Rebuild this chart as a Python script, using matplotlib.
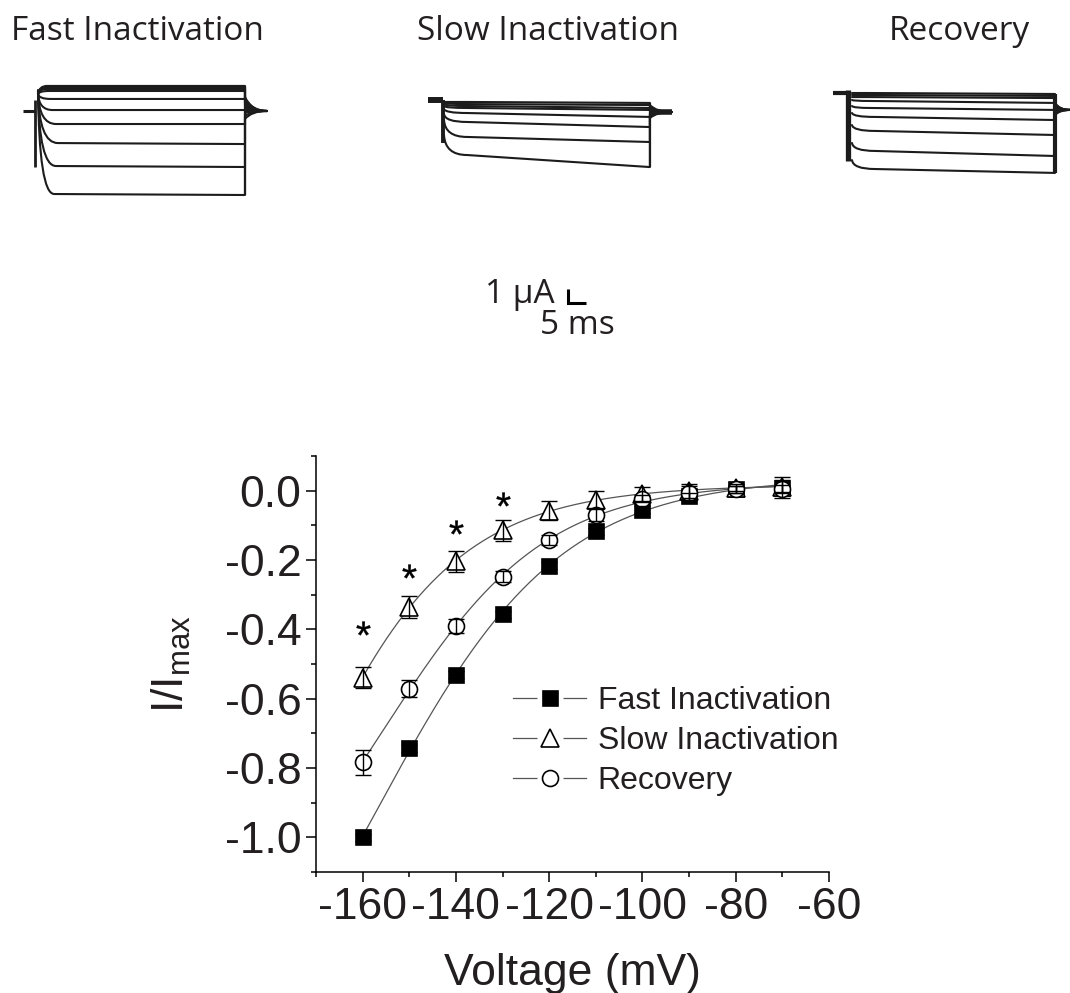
import numpy as np
import matplotlib
matplotlib.use("Agg")
import matplotlib.pyplot as plt
from matplotlib.path import Path
from matplotlib.patches import PathPatch
from matplotlib.lines import Line2D
from matplotlib.legend_handler import HandlerTuple

# ---------------- data: steady-state inactivation / recovery ----------------
voltage = [-160, -150, -140, -130, -120, -110, -100, -90, -80, -70]
fast_mean = [-1.0, -0.743, -0.531, -0.356, -0.216, -0.117, -0.055, -0.016, 0.004, 0.008]
fast_err = [0.01, 0.01, 0.01, 0.01, 0.01, 0.01, 0.01, 0.01, 0.01, 0.03]
slow_mean = [-0.539, -0.335, -0.204, -0.114, -0.058, -0.026, -0.009, -0.002, 0.009, 0.012]
slow_err = [0.03, 0.032, 0.03, 0.03, 0.027, 0.024, 0.02, 0.02, 0.01, 0.02]
rec_mean = [-0.784, -0.571, -0.391, -0.248, -0.143, -0.070, -0.023, -0.006, 0.004, 0.006]
rec_err = [0.035, 0.025, 0.02, 0.015, 0.015, 0.017, 0.01, 0.02, 0.01, 0.01]
star_voltage = [-160, -150, -140, -130]
star_level = [-0.397, -0.233, -0.105, -0.023]
series_labels = ["Fast Inactivation", "Slow Inactivation", "Recovery"]
x_ticks = [-160, -140, -120, -100, -80, -60]
y_ticks = [-1.0, -0.8, -0.6, -0.4, -0.2, 0.0]

# ---------------- data: example current traces (ms, uA rel. to holding) ----------------
fast_start = [1.2, 1.2, 1.2, 1.2, 1.2, 1.2, 1.21, 1.29, 1.36, 1.43, 1.5]
fast_steady = [1.79, 1.71, 1.64, 1.57, 1.43, 0.86, 0.07, -0.93, -2.29, -3.93, -5.93]
fast_end = [1.79, 1.71, 1.64, 1.57, 1.43, 0.86, 0.07, -0.93, -2.36, -4.0, -6.0]
fast_knee = [2.5, 2.5, 2.5, 2.5, 3.0, 3.5, 4.0, 5.0, 5.5, 5.0, 4.5]
fast_tail = [1.0, 0.86, 0.71, 0.57, 0.43, 0.29, 0.14, 0.0, -0.14, -0.36, -0.57]
fast_step_ms = 57.5

slow_start = [-0.14, -0.21, -0.29, -0.43, -0.64, -1.0, -1.43, -2.5]
slow_steady = [-0.14, -0.29, -0.43, -0.57, -0.93, -1.57, -2.64, -3.93]
slow_end = [-0.21, -0.36, -0.57, -0.71, -1.21, -1.93, -3.0, -4.79]
slow_knee = [6.4] * 8
slow_tail = [-0.36, -0.5, -0.64, -0.79, -0.93, -1.07, -1.21, -1.29]
slow_step_ms = 57.2

rec_start = [0.0, -0.14, -0.29, -0.5, -0.93, -1.43, -2.29, -3.57, -4.79]
rec_steady = [0.0, -0.14, -0.29, -0.57, -1.07, -1.71, -2.71, -4.14, -5.43]
rec_end = [-0.07, -0.21, -0.36, -0.71, -1.21, -1.93, -3.0, -4.5, -5.71]
rec_knee = [4.0, 4.0, 4.0, 5.0, 5.0, 6.4, 6.4, 6.4, 6.4]
rec_tail = [-0.71, -0.79, -0.86, -0.93, -1.07, -1.21, -1.36, -1.5, -1.57]
rec_step_ms = 56.4

# ---------------- figure ----------------
W, H = 1070, 993
plt.rcParams["axes.unicode_minus"] = False
fig = plt.figure(figsize=(W / 100, H / 100), dpi=100)


def fx(px):
    return px / W


def fy(py):
    return 1 - py / H


TXT = "#231f20"
TRACE = "#1c1c1c"

# trace axes: units ms (x) and uA (y); 5 ms = 18 px, 1 uA = 14 px
PX_MS, PX_UA = 3.6, 14.0
tax = fig.add_axes([0, 0, 1, 1])
tax.set_xlim(0, W / PX_MS)
tax.set_ylim(-H / PX_UA, 0)
tax.axis("off")


def draw_panel(org, starts, steadys, ends, knees, tails, step_ms, tail_ms, tail_level,
               hold_from, hold_lw, cap_t, cap_top, cap_bot, cap_lw, end_lw):
    ox, oy = org
    for s, ss, e, kn, tl in zip(starts, steadys, ends, knees, tails):
        verts = [(ox, oy + s), (ox + 0.3, oy + ss), (ox + kn, oy + ss),
                 (ox + step_ms, oy + e), (ox + step_ms, oy + tl),
                 (ox + step_ms + (tail_ms - step_ms) * 0.3, oy + tail_level),
                 (ox + tail_ms, oy + tail_level)]
        codes = [Path.MOVETO, Path.CURVE3, Path.CURVE3, Path.LINETO, Path.LINETO,
                 Path.CURVE3, Path.CURVE3]
        tax.add_patch(PathPatch(Path(verts, codes), fill=False, ec=TRACE, lw=1.5,
                                joinstyle="round", capstyle="round"))
    # holding stub
    tax.plot([ox + hold_from, ox + cap_t], [oy, oy], color=TRACE, lw=hold_lw,
             solid_capstyle="butt")
    # capacitive transient
    tax.plot([ox + cap_t, ox + cap_t], [oy + cap_top, oy + cap_bot], color=TRACE,
             lw=cap_lw, solid_capstyle="butt")
    # end-of-step edge
    tax.plot([ox + step_ms, ox + step_ms], [oy + min(ends + tails), oy + max(ends + tails)],
             color=TRACE, lw=end_lw, solid_capstyle="butt")


draw_panel((38 / PX_MS, -111 / PX_UA), fast_start, fast_steady, fast_end, fast_knee,
           fast_tail, fast_step_ms, 63.6, 0.0, -4.2, 2.2, -0.7, 0.79, -4.0, 2.0, 1.6)
draw_panel((444 / PX_MS, -100 / PX_UA), slow_start, slow_steady, slow_end, slow_knee,
           slow_tail, slow_step_ms, 63.3, -0.86, -4.4, 4.3, -0.4, 0.0, -3.07, 2.8, 1.6)
tax.plot([444 / PX_MS + slow_step_ms, 444 / PX_MS + 63.3], [-100 / PX_UA - 0.86] * 2,
         color=TRACE, lw=4.0, solid_capstyle="butt")
draw_panel((852 / PX_MS, -93 / PX_UA), rec_start, rec_steady, rec_end, rec_knee,
           rec_tail, rec_step_ms, 60.6, -1.21, -5.3, 3.0, -1.1, 0.21, -4.86, 3.8, 3.0)

# scale bar 1 uA / 5 ms
cx, cy = 568 / PX_MS, -303 / PX_UA
tax.plot([cx, cx, cx + 5], [cy + 1, cy, cy], color="k", lw=2.2,
         solid_joinstyle="miter", solid_capstyle="butt")

TFONT = "Open Sans"
fig.text(fx(137), fy(40), "Fast Inactivation", ha="center", va="baseline",
         fontsize=24, family=TFONT, color=TXT)
fig.text(fx(548), fy(40), "Slow Inactivation", ha="center", va="baseline",
         fontsize=24, family=TFONT, color=TXT)
fig.text(fx(959), fy(40), "Recovery", ha="center", va="baseline",
         fontsize=24, family=TFONT, color=TXT)
fig.text(fx(555), fy(303), "1 µA", ha="right", va="baseline",
         fontsize=24, family=TFONT, color=TXT)
fig.text(fx(540), fy(334), "5 ms", ha="left", va="baseline",
         fontsize=24, family=TFONT, color=TXT)

# ---------------- I/Imax plot ----------------
PFONT = "Liberation Sans"
plt.rcParams["font.family"] = PFONT
ax = fig.add_axes([fx(316), fy(872), (829 - 316) / W, (872 - 456) / H])
ax.patch.set_alpha(0)


def boltz_fit(v, y):
    v = np.asarray(v, float)
    y = np.asarray(y, float)
    best_sse, best = np.inf, None
    for vh in np.arange(-230, -90, 0.5):
        for k in np.arange(4, 45, 0.25):
            f = 1.0 / (1.0 + np.exp((v - vh) / k))
            M = np.column_stack([f, np.ones_like(f)])
            coef = np.linalg.lstsq(M, y, rcond=None)[0]
            sse = np.sum((M @ coef - y) ** 2)
            if sse < best_sse:
                best_sse, best = sse, (vh, k, coef)
    vh, k, coef = best
    return lambda vv: coef[0] / (1.0 + np.exp((vv - vh) / k)) + coef[1]


FITC = "#555555"
vv = np.linspace(min(voltage), max(voltage), 300)
styles = [
    dict(marker="s", ms=10.8, mfc="k", mec="k"),
    dict(marker="^", ms=13, mfc="white", mec="k"),
    dict(marker="o", ms=11.5, mfc="white", mec="k"),
]
for mean, err, st in zip([fast_mean, slow_mean, rec_mean],
                         [fast_err, slow_err, rec_err], styles):
    fit = boltz_fit(voltage, mean)
    ax.plot(vv, fit(vv), color=FITC, lw=0.9, zorder=1)
    ax.plot(voltage, mean, ls="none", mew=1.2, zorder=3, **st)
    ax.errorbar(voltage, mean, yerr=err, fmt="none", ecolor="k", elinewidth=1.0,
                capsize=6, capthick=1.0, zorder=4)

ax.plot(star_voltage, star_level, ls="none", marker=r"$\mathregular{*}$", ms=10,
        color="k", mec="k", mew=0.3, zorder=5)

ax.set_xlim(-170, -60)
ax.set_ylim(-1.1, 0.1)
ax.set_xticks(x_ticks)
ax.set_xticks(np.arange(-170, -59, 10), minor=True)
ax.set_yticks(y_ticks)
ax.set_yticks(np.arange(-1.1, 0.11, 0.1), minor=True)
ax.set_yticklabels([f"{t:.1f}" for t in y_ticks])
ax.set_xticklabels([str(t) for t in x_ticks])
for s in ["top", "right"]:
    ax.spines[s].set_visible(False)
for s in ["left", "bottom"]:
    ax.spines[s].set_linewidth(1.1)
ax.tick_params(which="major", direction="out", length=7.5, width=1.1,
               labelsize=32, pad=3, colors="k", labelcolor=TXT)
ax.tick_params(which="minor", direction="out", length=3.8, width=1.1)
ax.set_xlabel("Voltage (mV)", fontsize=32, labelpad=18, color=TXT)
ax.set_ylabel(r"I/I$_{\mathregular{max}}$", fontsize=32, labelpad=23, color=TXT)

line_h = Line2D([], [], color=FITC, lw=0.9)
halo = Line2D([], [], ls="none", marker="s", ms=19, mfc="white", mec="none")
mk = [Line2D([], [], ls="none", mew=1.2, **st) for st in styles]
handles = [(line_h, halo, m) for m in mk]
ax.legend(handles, series_labels, handler_map={tuple: HandlerTuple(ndivide=1, pad=0)},
          loc="upper left", bbox_to_anchor=(fx(513), fy(686)),
          bbox_transform=fig.transFigure, frameon=False, borderpad=0,
          borderaxespad=0, handlelength=2.3, handletextpad=0.35, labelspacing=0.31,
          prop={"family": PFONT, "size": 23}, labelcolor=TXT)

fig.savefig("out.png", dpi=100)
